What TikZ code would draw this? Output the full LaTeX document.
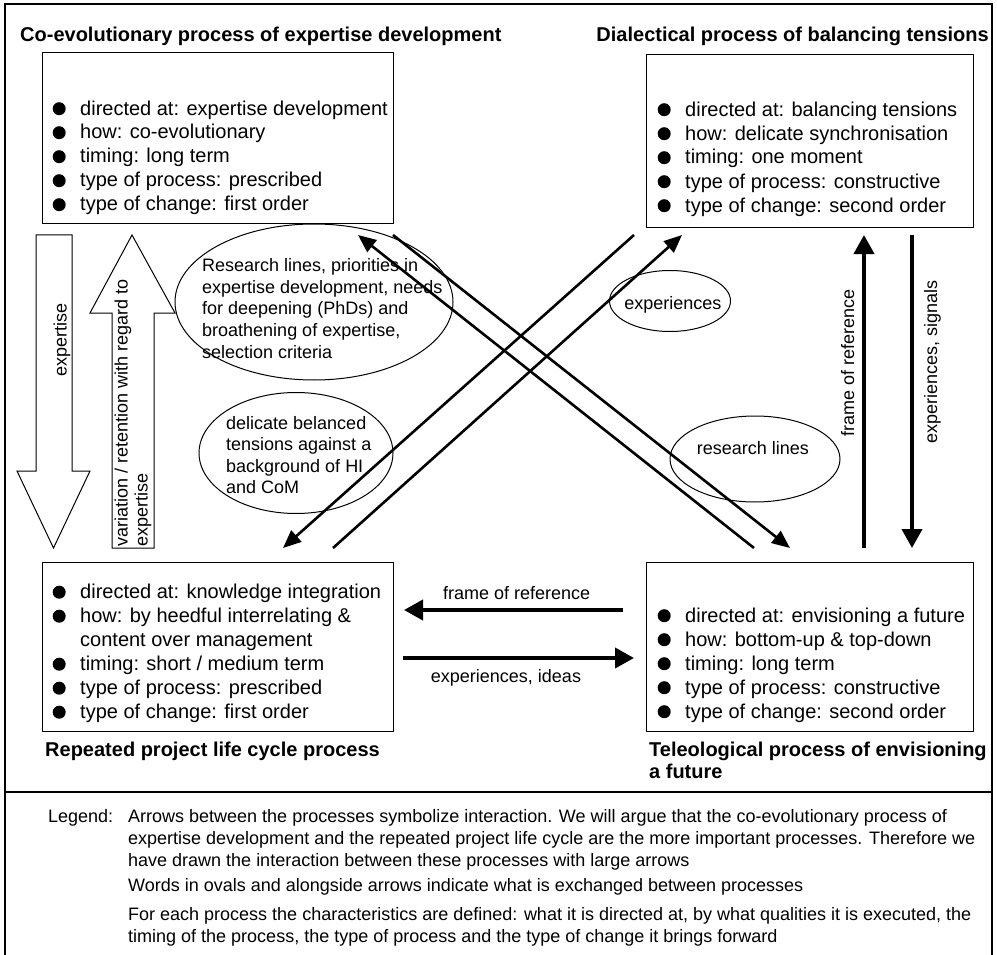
\documentclass[tikz,border=0pt]{standalone}
\usepackage{fontspec}
\setmainfont{Liberation Sans}
\usetikzlibrary{arrows.meta,shapes.geometric}

% filled round bullet hanging to the left of an item line
\newcommand\bul{\makebox[0pt][r]{\tikz[baseline=-6.3pt]\fill (0,0) circle (6.5pt);\hspace{14.5pt}}}

% multi-line nodes below are placed by the baseline of their last line
\tikzset{
  frameline/.style={line width=1.3pt},
  procbox/.style={draw, line width=1.2pt, rectangle, inner sep=0pt, anchor=north west},
  proctitle/.style={font=\fontsize{20}{22}\selectfont\bfseries, inner sep=0pt, align=left},
  itemlist/.style={font=\fontsize{20}{24}\selectfont, inner sep=0pt, align=left, anchor=base west},
  oval/.style={draw, ellipse, line width=1pt, inner sep=0pt, outer sep=0pt},
  ovaltext/.style={font=\fontsize{18}{21.6}\selectfont, inner sep=0pt, align=left, anchor=base west},
  arrowlabel/.style={font=\fontsize{18}{21.6}\selectfont, inner sep=0pt},
  legendtext/.style={font=\fontsize{18}{22}\selectfont, inner sep=0pt, align=left, anchor=base west},
  thinarrow/.style={line width=2.6pt, -{Triangle[length=18pt,width=15pt]}},
  boldarrow/.style={line width=4pt, -{Triangle[length=19pt,width=20pt]}},
  blockarrow/.style={draw, line width=1pt, line join=miter},
}

\begin{document}
\begin{tikzpicture}[x=1pt,y=-1pt]
\useasboundingbox (0,0) rectangle (997,955);

% outer frame and legend separator
\draw[frameline] (5,960) -- (5,4) -- (992,4) -- (992,960);
\draw[frameline] (5,792) -- (992,792);

% process boxes
\node[procbox, minimum width=351pt, minimum height=171pt] (coevo) at (42,52) {};
\node[procbox, minimum width=327pt, minimum height=173pt] (dialect) at (646,54) {};
\node[procbox, minimum width=351pt, minimum height=169pt] (project) at (42,562) {};
\node[procbox, minimum width=327pt, minimum height=169pt] (teleo) at (646,562) {};

% process titles
\node[proctitle, anchor=base west] (coevo-title) at (20,42) {Co-evolutionary process of expertise development};
\node[proctitle, anchor=base east] (dialect-title) at (989,42) {Dialectical process of balancing tensions};
\node[proctitle, anchor=base west] (project-title) at (45,756) {Repeated project life cycle process};
\node[proctitle, anchor=base west] (teleo-title) at (649,778) {Teleological process of envisioning\\a future};

% characteristics of each process
\node[itemlist] (coevo-list) at (80,211) {\bul directed at: expertise development\\
  \bul how: co-evolutionary\\
  \bul timing: long term\\
  \bul type of process: prescribed\\
  \bul type of change: first order};
\node[itemlist] (dialect-list) at (685,212) {\bul directed at: balancing tensions\\
  \bul how: delicate synchronisation\\
  \bul timing: one moment\\
  \bul type of process: constructive\\
  \bul type of change: second order};
\node[itemlist] (project-list) at (80,718.5) {\bul directed at: knowledge integration\\
  \bul how: by heedful interrelating \&\\
  content over management\\
  \bul timing: short / medium term\\
  \bul type of process: prescribed\\
  \bul type of change: first order};
\node[itemlist] (teleo-list) at (685,718) {\bul directed at: envisioning a future\\
  \bul how: bottom-up \& top-down\\
  \bul timing: long term\\
  \bul type of process: constructive\\
  \bul type of change: second order};

% large block arrows between expertise development and project life cycle
\draw[blockarrow] (36,235) -- (72,235) -- (72,471) -- (90,471) -- (53.5,548)
  -- (17,471) -- (36,471) -- cycle;
\draw[blockarrow] (132,235) -- (175,313) -- (154,313) -- (154,548) -- (112,548)
  -- (112,313) -- (90,313) -- cycle;
\node[arrowlabel, rotate=90, anchor=base] (expertise-lbl) at (66.5,340) {expertise};
\node[arrowlabel, rotate=90, anchor=north west, align=left,
  font=\fontsize{18}{20}\selectfont] (variation-lbl) at (114.5,547)
  {variation / retention with regard to\\expertise};

% ovals with exchanged content
\node[oval, minimum width=278pt, minimum height=156pt] (research-oval) at (314,302) {};
\node[ovaltext] (research-txt) at (202,358.1) {Research lines, priorities in\\
  expertise development, needs\\
  for deepening (PhDs) and\\
  broathening of expertise,\\
  selection criteria};
\node[oval, minimum width=194pt, minimum height=121pt] (tension-oval) at (296,453) {};
\node[ovaltext] (tension-txt) at (226,493.8) {delicate belanced\\
  tensions against a\\
  background of HI\\
  and CoM};
\node[oval, minimum width=121pt, minimum height=61pt] (exp-oval) at (670,301) {};
\node[arrowlabel, anchor=base] (exp-txt) at (672.8,309.3) {experiences};
\node[oval, minimum width=170pt, minimum height=86pt] (lines-oval) at (755,459) {};
\node[arrowlabel, anchor=base] (lines-txt) at (752.8,454) {research lines};

% end points of the diagonal connectors
\coordinate (d1s) at (754,548);  \coordinate (d1e) at (358,235);
\coordinate (d2s) at (393,235);  \coordinate (d2e) at (790,548);
\coordinate (d3s) at (634,235);  \coordinate (d3e) at (283,548);
\coordinate (d4s) at (333,548);  \coordinate (d4e) at (682,235);
\draw[thinarrow] (d1s) -- (d1e);
\draw[thinarrow] (d2s) -- (d2e);
\draw[thinarrow] (d3s) -- (d3e);
\draw[thinarrow] (d4s) -- (d4e);

% vertical connectors between balancing tensions and envisioning
\coordinate (up-s) at (864,548);   \coordinate (up-e) at (864,235);
\coordinate (down-s) at (912,235); \coordinate (down-e) at (912,548);
\draw[boldarrow] (up-s) -- (up-e);
\draw[boldarrow] (down-s) -- (down-e);
\node[arrowlabel, rotate=90, anchor=base] (frame-v) at (854,363) {frame of reference};
\node[arrowlabel, rotate=90, anchor=base] (signals-v) at (937,362) {experiences, signals};

% horizontal connectors between project life cycle and envisioning
\coordinate (left-s) at (623,610);  \coordinate (left-e) at (404,610);
\coordinate (right-s) at (403,658); \coordinate (right-e) at (634,658);
\draw[boldarrow] (left-s) -- (left-e);
\draw[boldarrow] (right-s) -- (right-e);
\node[arrowlabel, anchor=base] (frame-h) at (516.7,599.3) {frame of reference};
\node[arrowlabel, anchor=base] (ideas-h) at (506,682.7) {experiences, ideas};

% legend
\node[legendtext] (legend-key) at (48,822) {Legend:};
\node[legendtext] (legend-body) at (128,942) {Arrows between the processes symbolize interaction. We will argue that the co-evolutionary process of\\
  expertise development and the repeated project life cycle are the more important processes. Therefore we\\
  have drawn the interaction between these processes with large arrows\\[3pt]
  Words in ovals and alongside arrows indicate what is exchanged between processes\\[7pt]
  For each process the characteristics are defined: what it is directed at, by what qualities it is executed, the\\
  timing of the process, the type of process and the type of change it brings forward};
\end{tikzpicture}
\end{document}
